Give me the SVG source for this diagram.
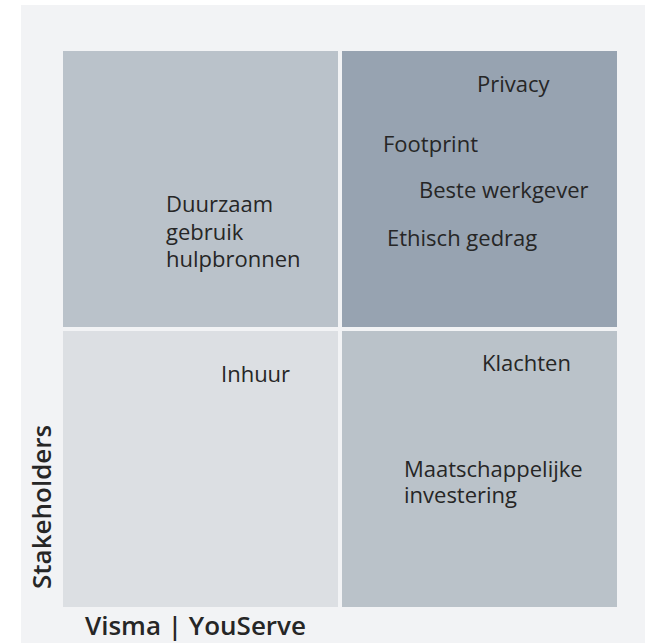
<svg xmlns="http://www.w3.org/2000/svg" width="645" height="643" viewBox="0 0 645 643">
<style>
.t{font-family:"Open Sans","Noto Sans","DejaVu Sans",sans-serif;font-size:22px;fill:#262626}
.b{font-family:"Open Sans","Noto Sans","DejaVu Sans",sans-serif;font-size:26px;font-weight:600;fill:#262626}
</style>
<rect x="0" y="0" width="645" height="643" fill="#ffffff"/>
<rect x="21" y="5" width="624" height="638" fill="#f2f3f5"/>
<g id="q-top-left"><rect x="63" y="51" width="275" height="276" fill="#bac2ca"/>
<text class="t" x="166" y="212">Duurzaam</text><text class="t" x="166" y="240">gebruik</text><text class="t" x="166" y="267">hulpbronnen</text></g>
<g id="q-top-right"><rect x="342" y="51" width="275" height="276" fill="#97a3b1"/>
<text class="t" x="477" y="92">Privacy</text>
<text class="t" x="383" y="152">Footprint</text>
<text class="t" x="419" y="198">Beste werkgever</text>
<text class="t" x="387" y="246">Ethisch gedrag</text></g>
<g id="q-bottom-left"><rect x="63" y="331" width="275" height="276" fill="#dcdfe3"/>
<text class="t" x="221" y="382">Inhuur</text></g>
<g id="q-bottom-right"><rect x="342" y="331" width="275" height="276" fill="#bac2c9"/>
<text class="t" x="482" y="371">Klachten</text>
<text class="t" x="404" y="477">Maatschappelijke</text><text class="t" x="404" y="503">investering</text></g>
<g id="connectors"/>
<text class="b" transform="translate(51,589) rotate(-90)">Stakeholders</text>
<text class="b" x="85" y="635">Visma | YouServe</text>
</svg>
